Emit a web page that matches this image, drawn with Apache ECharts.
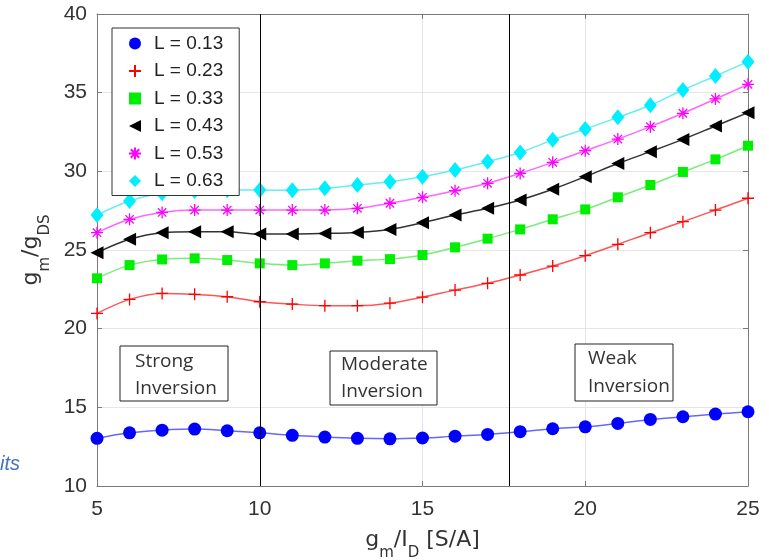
<!DOCTYPE html>
<html><head><meta charset="utf-8">
<script src="https://cdn.jsdelivr.net/npm/echarts@6/dist/echarts.min.js"></script>
<style>html,body{margin:0;padding:0;background:#fff}#c{width:769px;height:560px}</style>
</head><body><div id="c"></div>
<script>
const xValues = [5,6,7,8,9,10,11,12,13,14,15,16,17,18,19,20,21,22,23,24,25];
const L013 = [13.03,13.38,13.55,13.62,13.51,13.38,13.22,13.11,13.03,13.0,13.05,13.17,13.28,13.45,13.64,13.76,13.98,14.23,14.4,14.57,14.72];
const L023 = [20.97,21.86,22.24,22.18,22.03,21.71,21.56,21.46,21.46,21.62,22.0,22.45,22.88,23.41,23.98,24.64,25.36,26.1,26.8,27.54,28.29];
const L033 = [23.2,24.04,24.4,24.47,24.36,24.15,24.04,24.15,24.32,24.42,24.68,25.17,25.72,26.31,26.95,27.58,28.35,29.13,29.96,30.76,31.63];
const L043 = [24.83,25.68,26.1,26.16,26.16,26.01,26.01,26.05,26.12,26.31,26.73,27.22,27.65,28.18,28.86,29.66,30.5,31.25,32.03,32.88,33.73];
const L053 = [26.1,26.95,27.39,27.54,27.54,27.54,27.54,27.54,27.65,27.97,28.35,28.77,29.24,29.87,30.57,31.31,32.05,32.84,33.69,34.6,35.53];
const L063 = [27.22,28.11,28.6,28.75,28.8,28.81,28.8,28.92,29.13,29.34,29.66,30.08,30.61,31.2,32.0,32.69,33.43,34.2,35.17,36.06,36.97];
const seriesNames = ['L = 0.13','L = 0.23','L = 0.33','L = 0.43','L = 0.53','L = 0.63'];
const regionBounds = [10, 17.65];
const regionLabels = [['Strong','Inversion'],['Moderate','Inversion'],['Weak','Inversion']];
const xTicks = {min:5, max:25, interval:5};
const yTicks = {min:10, max:40, interval:5};

const plusPath = 'path://M5,0L5,10M0,5L10,5';
const starPath = 'path://M5,0L5,10M0,5L10,5M1.5,1.5L8.5,8.5M8.5,1.5L1.5,8.5';
const triLeft = 'path://M0,5L10,0L10,10Z';

const styles = [
  {symbol:'circle', size:13, color:'#0000ff', line:'#6666ff'},
  {symbol:plusPath, size:12, color:'#ff0000', line:'#ff5555', stroke:true},
  {symbol:'rect', size:10, color:'#00ee00', line:'#77ee77'},
  {symbol:triLeft, size:[13,13], color:'#000000', line:'#333333'},
  {symbol:starPath, size:12, color:'#ff00ff', line:'#ff66ff', stroke:true},
  {symbol:'diamond', size:[13,16], color:'#00eeff', line:'#66eeee'}
];
const allData = [L013,L023,L033,L043,L053,L063];

const series = allData.map((vals,i)=>{
  const st = styles[i];
  const s = {
    name: seriesNames[i], type:'line', smooth:0.35,
    data: xValues.map((x,j)=>[x, vals[j]]),
    symbol: st.symbol, symbolSize: st.size, showAllSymbol:true,
    lineStyle:{color:st.line, width:1.5},
    itemStyle: st.stroke ? {color:'rgba(0,0,0,0)', borderColor:st.color, borderWidth:1.3} : {color:st.color, borderWidth:0},
    emphasis:{disabled:true}, animation:false, z: 3
  };
  if (i===0) {
    s.markLine = {silent:true, symbol:'none', label:{show:false}, animation:false,
      lineStyle:{color:'#000', width:1, type:'solid'},
      data: regionBounds.map(v=>({xAxis:v}))};
  }
  return s;
});

const font = '"Liberation Sans", Arial, sans-serif';
const titleFont = '"DejaVu Sans", sans-serif';
const frame = '#7a7a7a';

const boxes = [
  {x:120, y:346, w:108, h:55, tx:135, ty:[362,389]},
  {x:330, y:351, w:107, h:54, tx:341, ty:[365,392]},
  {x:575, y:344, w:98,  h:57, tx:588, ty:[359,387]}
];
const graphics = [];
boxes.forEach((b,i)=>{
  graphics.push({type:'rect', shape:{x:b.x, y:b.y, width:b.w, height:b.h}, style:{fill:'#fff', stroke:'#222', lineWidth:1}, z:10});
  regionLabels[i].forEach((t,k)=>{
    graphics.push({type:'text', x:b.tx, y:b.ty[k], style:{text:t, fill:'#333', font:'19px "Open Sans", Lato, sans-serif', textVerticalAlign:'middle'}, z:11});
  });
});
graphics.push({type:'text', x:0, y:464, style:{text:'its', fill:'#4472c4', font:'italic 20px "Liberation Sans", Arial, sans-serif', textVerticalAlign:'middle'}, z:11});

const rich = {
  a:{fontSize:22, color:'#333', fontFamily:titleFont, lineHeight:24, verticalAlign:'top'},
  s:{fontSize:15, color:'#333', fontFamily:titleFont, lineHeight:15, padding:[17,0,0,0], verticalAlign:'top'}
};

const option = {
  backgroundColor:'#fff',
  animation:false,
  grid:{left:97, right:21, top:14, bottom:74, containLabel:false, outerBoundsMode:'none'},
  legend:{
    orient:'vertical', left:112, top:28,
    itemWidth:12, itemHeight:12, itemGap:8.5,
    padding:[6,16,5,16],
    backgroundColor:'#fff', borderColor:'#333', borderWidth:1,
    textStyle:{fontSize:19, color:'#222', fontFamily:font, padding:[0,0,0,8]},
    selectedMode:false,
    data: seriesNames.map((n,i)=>({name:n, icon: styles[i].symbol})),
    z: 20
  },
  xAxis:[
    {type:'value', min:xTicks.min, max:xTicks.max, interval:xTicks.interval, position:'bottom',
     axisLine:{show:true, onZero:false, lineStyle:{color:frame, width:1}},
     axisTick:{show:true, inside:true, length:5, lineStyle:{color:frame}},
     axisLabel:{fontSize:21, color:'#333', fontFamily:font, margin:13},
     splitLine:{show:true, lineStyle:{color:'#e6e6e6', width:1}},
     name:'{a|g}{s|m}{a|/I}{s|D}{a| [S/A]}', nameLocation:'middle', nameGap:43,
     nameTextStyle:{rich:rich}},
    {type:'value', min:xTicks.min, max:xTicks.max, interval:xTicks.interval, position:'top',
     axisLine:{show:true, onZero:false, lineStyle:{color:frame, width:1}},
     axisTick:{show:true, inside:true, length:5, lineStyle:{color:frame}},
     axisLabel:{show:false}, splitLine:{show:false}}
  ],
  yAxis:[
    {type:'value', min:yTicks.min, max:yTicks.max, interval:yTicks.interval, position:'left',
     axisLine:{show:true, onZero:false, lineStyle:{color:frame, width:1}},
     axisTick:{show:true, inside:true, length:5, lineStyle:{color:frame}},
     axisLabel:{fontSize:21, color:'#333', fontFamily:font, margin:10},
     splitLine:{show:true, lineStyle:{color:'#e6e6e6', width:1}},
     name:'{a|g}{s|m}{a|/g}{s|DS}', nameLocation:'middle', nameGap:43,
     nameTextStyle:{rich:rich}},
    {type:'value', min:yTicks.min, max:yTicks.max, interval:yTicks.interval, position:'right',
     axisLine:{show:true, onZero:false, lineStyle:{color:frame, width:1}},
     axisTick:{show:true, inside:true, length:5, lineStyle:{color:frame}},
     axisLabel:{show:false}, splitLine:{show:false}}
  ],
  series: series,
  graphic: graphics
};
const chart = echarts.init(document.getElementById('c'), null, {renderer:'canvas'});
chart.setOption(option);
</script>
</body></html>
